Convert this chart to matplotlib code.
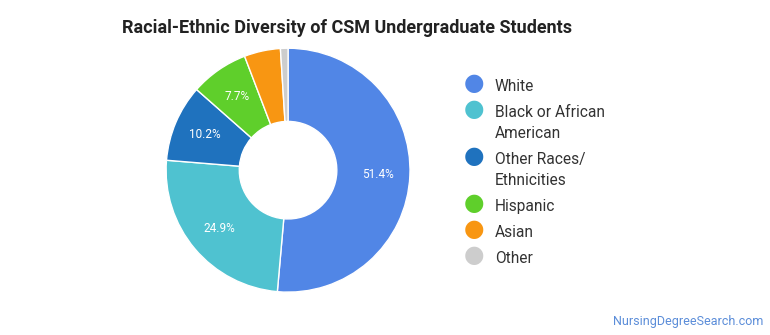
import matplotlib
matplotlib.use("Agg")
import matplotlib.pyplot as plt

# data
labels = ["White", "Black or African\nAmerican", "Other Races/\nEthnicities", "Hispanic", "Asian", "Other"]
shares = [51.4, 24.9, 10.2, 7.7, 4.8, 1.0]
colors = ["#5186e6", "#4fc2d0", "#1f72be", "#5fcf2b", "#f89612", "#cdcdcd"]
title = "Racial-Ethnic Diversity of CSM Undergraduate Students"

plt.rcParams["font.family"] = ["Roboto", "DejaVu Sans"]

fig = plt.figure(figsize=(7.7, 3.35), dpi=100)
ax = fig.add_axes([0.2156, 0.128, 0.317, 0.728])

def fmt(p):
    return "%.1f%%" % p if p > 6 else ""

wedges, texts, autotexts = ax.pie(
    shares, colors=colors, startangle=90, counterclock=False,
    autopct=fmt, pctdistance=0.74,
    wedgeprops=dict(width=0.6, edgecolor="white", linewidth=1),
    textprops=dict(color="white", fontsize=8.5))
ax.set_aspect("equal")
ax.set_xlim(-1, 1)
ax.set_ylim(-1, 1)

fig.text(0.451, 0.915, title, ha="center", va="center", fontsize=13,
         fontweight="bold", color="#222222")

# legend drawn by hand
ys = [83, 109, 156, 203, 229, 255]
for lab, col, y in zip(labels, colors, ys):
    fy = 1 - y / 335
    fig.text(474 / 770, fy, "\u25cf", color=col, fontsize=17, ha="center", va="center",
             family=["DejaVu Sans"])
    fig.text(495 / 770, fy + 0.013, lab, ha="left", va="top", fontsize=11.2,
             color="#333333", linespacing=1.5)

fig.text(763 / 770, 1 - 321 / 335, "NursingDegreeSearch.com", ha="right", va="center",
         fontsize=9, color="#5b8dd9")

fig.savefig("out.png", dpi=100)
